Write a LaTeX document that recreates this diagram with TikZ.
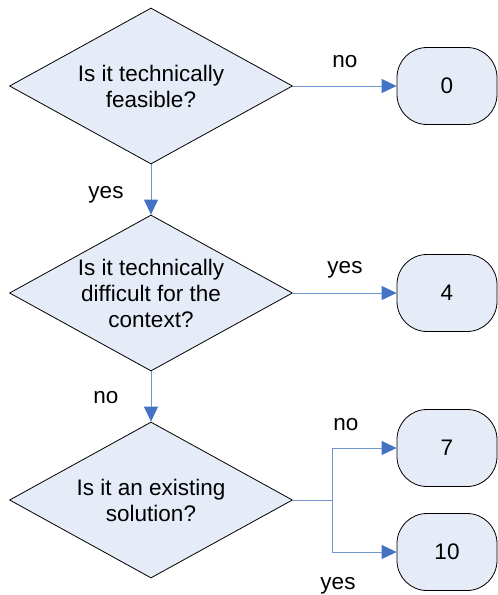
\documentclass[tikz,border=0pt]{standalone}
\usepackage{fontspec}
\setmainfont{Liberation Sans}
\usetikzlibrary{shapes.geometric,arrows.meta}
\definecolor{fillc}{RGB}{230,236,247}
\definecolor{linec}{RGB}{110,148,208}
\definecolor{headc}{RGB}{68,114,196}
\begin{document}
\begin{tikzpicture}[x=1pt,y=-1pt,
  every node/.style={font=\fontsize{22.5}{26}\selectfont},
  dia/.style={shape=diamond, draw=black, line width=0.8pt, fill=fillc, minimum width=283pt, minimum height=156pt, inner sep=0pt},
  dtext/.style={align=center, inner sep=0pt},
  term/.style={draw=black, line width=0.8pt, fill=fillc, rounded corners=30pt, minimum width=100pt, minimum height=77pt, inner sep=0pt},
  conn/.style={draw=linec, line width=1pt},
  arr/.style={conn, -{Triangle[length=15pt,width=14pt,color=headc]}},
  lab/.style={anchor=base, inner sep=0pt}]
\useasboundingbox (0,0) rectangle (498,595);
\node[dia, label={[dtext]center:Is it technically\\feasible?}] (d1) at (151,86) {};
\node[dia, label={[dtext]center:Is it technically\\difficult for the\\context?}] (d2) at (151,293) {};
\node[dia, label={[dtext]center:Is it an existing\\solution?}] (d3) at (151,500) {};
\node[term] (b0) at (447,86) {0};
\node[term] (b4) at (447,293) {4};
\node[term] (b7) at (447,448) {7};
\node[term] (b10) at (447,552) {10};
\draw[arr] (d1.east) -- (b0.west);
\draw[arr] (d1.south) -- (d2.north);
\draw[arr] (d2.east) -- (b4.west);
\draw[arr] (d2.south) -- (d3.north);
\coordinate (br) at (332,500);
\draw[conn] (d3.east) -- (br);
\draw[arr] (br) |- (b7.west);
\draw[arr] (br) |- (b10.west);
\node[lab] (l1) at (345,67) {no};
\node[lab] (l2) at (106,198) {yes};
\node[lab] (l3) at (345,273) {yes};
\node[lab] (l4) at (106,403) {no};
\node[lab] (l5) at (346,430) {no};
\node[lab] (l6) at (338,589) {yes};
\end{tikzpicture}
\end{document}
